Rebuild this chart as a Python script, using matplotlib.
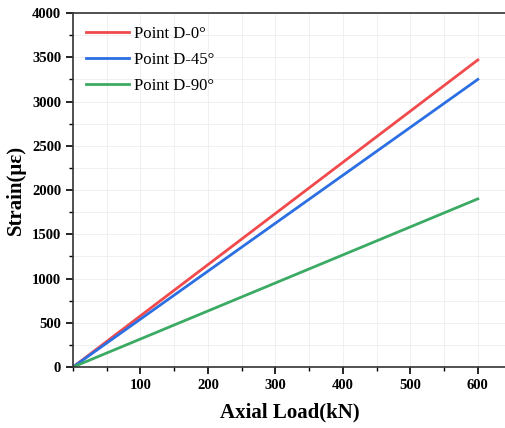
import numpy as np
import matplotlib.pyplot as plt
from matplotlib.ticker import MultipleLocator

# Dados
carga = [0, 600]
strain_0 = [0, 3470]
strain_45 = [0, 3250]
strain_90 = [0, 1900]
rotulos = ['Point D-0°', 'Point D-45°', 'Point D-90°']
cores = ['#F04A4C', '#2C6FE3', '#3BAA63']

plt.rcParams['font.family'] = ['Liberation Serif', 'DejaVu Serif']

fig = plt.figure(figsize=(5.05, 4.28), dpi=100)
ax = fig.add_axes([0.1446, 0.1425, 0.8604, 0.8271])

for s, lab, cor in zip([strain_0, strain_45, strain_90], rotulos, cores):
    ax.plot(carga, s, color=cor, lw=2.0, label=lab)

ax.set_xlim(0, 644)
ax.set_ylim(0, 4000)
ax.xaxis.set_major_locator(MultipleLocator(100))
ax.xaxis.set_minor_locator(MultipleLocator(50))
ax.yaxis.set_major_locator(MultipleLocator(500))
ax.yaxis.set_minor_locator(MultipleLocator(250))
ax.set_xticks([100, 200, 300, 400, 500, 600])
ax.grid(True, which='both', color='#eeeeee', lw=0.6)
ax.set_axisbelow(True)

ax.tick_params(which='major', direction='out', length=5, width=1.2, labelsize=10.5)
ax.tick_params(which='minor', direction='out', length=3, width=1.0)
for lab in ax.get_xticklabels() + ax.get_yticklabels():
    lab.set_fontweight('bold')
for sp in ax.spines.values():
    sp.set_linewidth(1.2)
    sp.set_color('#333333')

ax.set_xlabel('Axial Load(kN)', fontsize=15, fontweight='bold', labelpad=8)
ax.set_ylabel('Strain(με)', fontsize=15, fontweight='bold', labelpad=4)

ax.legend(loc='upper left', frameon=False, fontsize=12, handlelength=2.6,
          handletextpad=0.3, labelspacing=0.62, borderaxespad=0.35)

plt.savefig('out.png', dpi=100)
